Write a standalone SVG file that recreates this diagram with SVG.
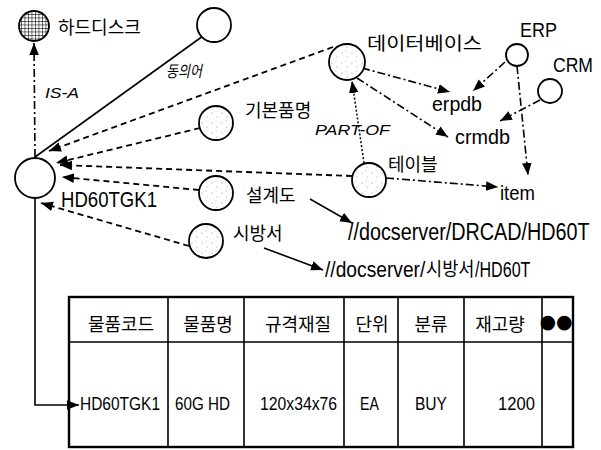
<svg xmlns="http://www.w3.org/2000/svg" width="601" height="450" viewBox="0 0 601 450">
<style>
.c{stroke:#000;stroke-width:1.8}
.w{fill:#fff}
.s{fill:url(#speck)}
.k{font-family:"Noto Sans CJK KR","Noto Sans",sans-serif;font-size:18px;fill:#000}
.l{font-family:"Liberation Sans",Arial,sans-serif;font-size:20px;fill:#000}
.i{font-style:italic;font-size:15px}
.dash{fill:none;stroke:#000;stroke-width:1.8;stroke-dasharray:6 4}
.dd{fill:none;stroke:#000;stroke-width:1.6;stroke-dasharray:8 3 2 3}
.dot{fill:none;stroke:#000;stroke-width:1.5;stroke-dasharray:2 2}
.sol{fill:none;stroke:#000;stroke-width:1.6}
.tb{fill:none;stroke:#000;stroke-width:1.6}
.tbo{fill:none;stroke:#000;stroke-width:2.4}
</style>
<defs>
<marker id="ah" viewBox="0 0 10 8" refX="10" refY="4" markerWidth="12" markerHeight="10" markerUnits="userSpaceOnUse" orient="auto"><path d="M0,0 L10,4 L0,8 z" fill="#000"/></marker>
<pattern id="speck" width="10" height="10" patternUnits="userSpaceOnUse"><rect width="10" height="10" fill="#fff"/><circle cx="2" cy="3" r="0.6" fill="#888"/><circle cx="7" cy="7" r="0.6" fill="#999"/><circle cx="6" cy="1" r="0.5" fill="#aaa"/></pattern>
<pattern id="hatch" width="3.5" height="3.5" patternUnits="userSpaceOnUse"><rect width="3.5" height="3.5" fill="#fff"/><path d="M0,0 H3.5 M0,0 V3.5" stroke="#222" stroke-width="1.3"/></pattern>
</defs>

<g id="connectors">
<line class="dd" x1="35" y1="157" x2="34" y2="43" marker-end="url(#ah)"/>
<line class="sol" x1="203" y1="36" x2="35" y2="157"/>
<line class="dash" x1="333" y1="47" x2="49" y2="151" marker-end="url(#ah)"/>
<line class="dash" x1="200" y1="128" x2="56" y2="163" marker-end="url(#ah)"/>
<line class="dash" x1="352" y1="176" x2="60" y2="165" marker-end="url(#ah)"/>
<line class="dash" x1="199" y1="190" x2="62" y2="177" marker-end="url(#ah)"/>
<line class="dash" x1="189" y1="246" x2="41" y2="203" marker-end="url(#ah)"/>
<line class="dot" x1="364" y1="163" x2="352" y2="81" marker-end="url(#ah)"/>
<line class="dd" x1="362" y1="68" x2="450" y2="92" marker-end="url(#ah)"/>
<line class="dd" x1="357" y1="78" x2="448" y2="137" marker-end="url(#ah)"/>
<line class="dd" x1="505" y1="62" x2="473" y2="91" marker-end="url(#ah)"/>
<line class="dd" x1="540" y1="100" x2="500" y2="121" marker-end="url(#ah)"/>
<line class="dd" x1="517" y1="66" x2="528" y2="175" marker-end="url(#ah)"/>
<line class="dd" x1="386" y1="178" x2="498" y2="187" marker-end="url(#ah)"/>
<line class="sol" x1="310" y1="199" x2="352" y2="223" marker-end="url(#ah)"/>
<line class="sol" x1="264" y1="248" x2="323" y2="270" marker-end="url(#ah)"/>
<polyline class="sol" points="35,198 35,405 79,405" marker-end="url(#ah)"/>
</g>

<g id="n-harddisk"><circle class="c" cx="34" cy="26" r="15" fill="url(#hatch)"/><text class="k" x="58" y="34">하드디스크</text></g>
<g id="n-synonym"><circle class="c w" cx="214" cy="25" r="17"/><text class="k i" style="font-size:16px" transform="translate(166,77) scale(0.75,1)" textLength="48" lengthAdjust="spacingAndGlyphs">동의어</text></g>
<g id="n-isa-label"><text class="l i" x="45" y="98" textLength="34" lengthAdjust="spacingAndGlyphs">IS-A</text></g>
<g id="n-basename"><circle class="c s" cx="216" cy="123" r="17"/><text class="k" x="245" y="117">기본품명</text></g>
<g id="n-database"><circle class="c s" cx="347" cy="62" r="18"/><text class="k" x="367" y="50" textLength="115" lengthAdjust="spacingAndGlyphs">데이터베이스</text></g>
<g id="n-partof-label"><text class="l i" x="315" y="135" textLength="75" lengthAdjust="spacingAndGlyphs">PART-OF</text></g>
<g id="n-erp"><circle class="c w" cx="517" cy="55" r="11"/><text class="l" x="520" y="37" textLength="37" lengthAdjust="spacingAndGlyphs">ERP</text></g>
<g id="n-crm"><circle class="c w" cx="550" cy="91" r="12"/><text class="l" x="553" y="72" textLength="40" lengthAdjust="spacingAndGlyphs">CRM</text></g>
<g id="n-erpdb"><text class="l" x="432" y="111" textLength="50" lengthAdjust="spacingAndGlyphs">erpdb</text></g>
<g id="n-crmdb"><text class="l" x="455" y="144" textLength="55" lengthAdjust="spacingAndGlyphs">crmdb</text></g>
<g id="n-table"><circle class="c s" cx="369" cy="180" r="17"/><text class="k" x="388" y="171">테이블</text></g>
<g id="n-item"><text class="l" x="500" y="200" textLength="35" lengthAdjust="spacingAndGlyphs">item</text></g>
<g id="n-main"><circle class="c w" cx="35" cy="178" r="20"/><text class="l" style="font-size:22px" transform="translate(61,207) scale(0.85,1)" textLength="113" lengthAdjust="spacingAndGlyphs">HD60TGK1</text></g>
<g id="n-design"><circle class="c s" cx="216" cy="193" r="17"/><text class="k" x="246" y="202">설계도</text></g>
<g id="n-spec"><circle class="c s" cx="206" cy="241" r="17"/><text class="k" x="233" y="240">시방서</text></g>
<g id="n-drcad"><text class="l" style="font-size:23px" transform="translate(348,240) scale(0.86,1)" textLength="281" lengthAdjust="spacingAndGlyphs">//docserver/DRCAD/HD60T</text></g>
<g id="n-specpath">
<text class="l" style="font-size:22px" transform="translate(325,277) scale(0.88,1)" textLength="114" lengthAdjust="spacingAndGlyphs">//docserver/</text>
<text class="k" style="font-size:19px" transform="translate(426,276) scale(0.85,1)" textLength="57" lengthAdjust="spacingAndGlyphs">시방서</text>
<text class="l" style="font-size:22px" transform="translate(475,277) scale(0.88,1)" textLength="63" lengthAdjust="spacingAndGlyphs">/HD60T</text>
</g>

<g id="table">
<rect class="tbo" x="69" y="297" width="504" height="150"/>
<line class="tb" x1="69" y1="342" x2="573" y2="342"/>
<line class="tb" x1="168" y1="297" x2="168" y2="447"/>
<line class="tb" x1="244" y1="297" x2="244" y2="447"/>
<line class="tb" x1="344" y1="297" x2="344" y2="447"/>
<line class="tb" x1="398" y1="297" x2="398" y2="447"/>
<line class="tb" x1="464" y1="297" x2="464" y2="447"/>
<line class="tb" x1="542" y1="297" x2="542" y2="447"/>
<g class="k" text-anchor="middle">
<text x="121" y="331">물품코드</text>
<text x="208" y="331">물품명</text>
<text x="298" y="331">규격재질</text>
<text x="372" y="331">단위</text>
<text x="431" y="331">분류</text>
<text x="500" y="331">재고량</text>
</g>
<text x="556" y="328" text-anchor="middle" font-family="DejaVu Sans,sans-serif" font-size="19" fill="#000">●●</text>
<g>
<text class="l" style="font-size:19px" transform="translate(80,410) scale(0.82,1)" textLength="97.6" lengthAdjust="spacingAndGlyphs">HD60TGK1</text>
<text class="l" style="font-size:19px" transform="translate(175,410) scale(0.82,1)" textLength="67" lengthAdjust="spacingAndGlyphs">60G HD</text>
<text class="l" style="font-size:19px" transform="translate(260,410) scale(0.82,1)" textLength="94" lengthAdjust="spacingAndGlyphs">120x34x76</text>
<text class="l" style="font-size:19px" transform="translate(360,410) scale(0.82,1)" textLength="23" lengthAdjust="spacingAndGlyphs">EA</text>
<text class="l" style="font-size:19px" transform="translate(415,410) scale(0.82,1)" textLength="39" lengthAdjust="spacingAndGlyphs">BUY</text>
<text class="l" style="font-size:19px" transform="translate(498,410) scale(0.82,1)" textLength="45" lengthAdjust="spacingAndGlyphs">1200</text>
</g>
</g>
</svg>
